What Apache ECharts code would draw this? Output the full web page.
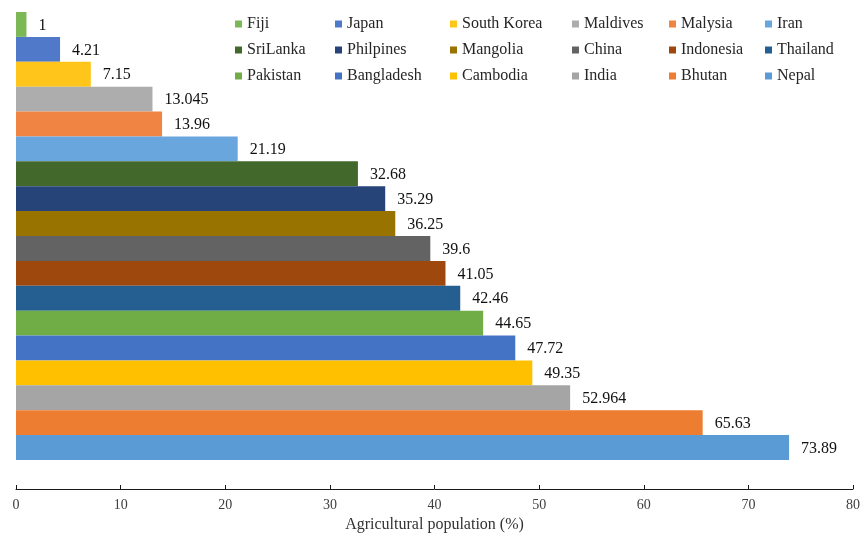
<!DOCTYPE html>
<html>
<head>
<meta charset="utf-8">
<script src="https://cdn.jsdelivr.net/npm/echarts@6/dist/echarts.min.js"></script>
<style>
  html, body { margin: 0; padding: 0; background: #ffffff; }
  #chart { width: 864px; height: 540px; }
</style>
</head>
<body>
<div id="chart"></div>
<script>
// Share of population working in agriculture, by country (%), listed top to bottom
const countries = ['Fiji', 'Japan', 'South Korea', 'Maldives', 'Malysia', 'Iran',
  'SriLanka', 'Philpines', 'Mangolia', 'China', 'Indonesia', 'Thailand',
  'Pakistan', 'Bangladesh', 'Cambodia', 'India', 'Bhutan', 'Nepal'];
const shares = [1, 4.21, 7.15, 13.045, 13.96, 21.19,
  32.68, 35.29, 36.25, 39.6, 41.05, 42.46,
  44.65, 47.72, 49.35, 52.964, 65.63, 73.89];
const colors = ['#7CB856', '#5079CA', '#FFC51A', '#ADADAD', '#F08442', '#6AA6DE',
  '#43682B', '#264478', '#997300', '#636363', '#9E480E', '#255E91',
  '#70AD47', '#4472C4', '#FFC000', '#A5A5A5', '#ED7D31', '#5B9BD5'];

// Legend is laid out as 6 columns of 3 entries
const legendColumns = [
  ['Fiji', 'SriLanka', 'Pakistan'],
  ['Japan', 'Philpines', 'Bangladesh'],
  ['South Korea', 'Mangolia', 'Cambodia'],
  ['Maldives', 'China', 'India'],
  ['Malysia', 'Indonesia', 'Bhutan'],
  ['Iran', 'Thailand', 'Nepal']
];
const xTicks = [0, 10, 20, 30, 40, 50, 60, 70, 80];

const serif = "'Liberation Serif', 'Times New Roman', serif";
const legendLeft = [235, 335, 450, 572, 669, 765];

const chart = echarts.init(document.getElementById('chart'), null, { renderer: 'canvas' });

const series = countries.map((name, i) => ({
  name: name,
  type: 'bar',
  data: [shares[i]],
  barGap: '0%',
  barCategoryGap: '0%',
  itemStyle: { color: colors[i] },
  label: {
    show: true,
    position: 'right',
    distance: 12,
    offset: [0, 1],
    fontFamily: serif,
    fontSize: 16,
    color: '#111111',
    formatter: (p) => String(p.value)
  }
}));

const legends = legendColumns.map((names, c) => ({
  orient: 'vertical',
  left: legendLeft[c],
  top: 15,
  padding: 0,
  itemWidth: 7,
  itemHeight: 7,
  itemGap: 8,
  icon: 'rect',
  data: names,
  textStyle: { fontFamily: serif, fontSize: 16, color: '#262626', lineHeight: 18 }
}));

chart.setOption({
  animation: false,
  backgroundColor: '#ffffff',
  color: colors,
  legend: legends,
  grid: { left: 16, right: 11, top: 12, bottom: 80, containLabel: false },
  xAxis: {
    type: 'value',
    min: xTicks[0],
    max: xTicks[xTicks.length - 1],
    interval: 10,
    offset: 29,
    name: 'Agricultural population (%)',
    nameLocation: 'middle',
    nameGap: 26,
    nameTextStyle: { fontFamily: serif, fontSize: 16, color: '#333333' },
    axisLine: { show: true, lineStyle: { color: '#1a1a1a', width: 1 } },
    axisTick: { show: true, inside: true, length: 4, lineStyle: { color: '#1a1a1a' } },
    axisLabel: { fontFamily: serif, fontSize: 14, color: '#404040', margin: 9 },
    splitLine: { show: false }
  },
  yAxis: {
    type: 'category',
    data: [''],
    show: false
  },
  series: series
});
</script>
</body>
</html>
